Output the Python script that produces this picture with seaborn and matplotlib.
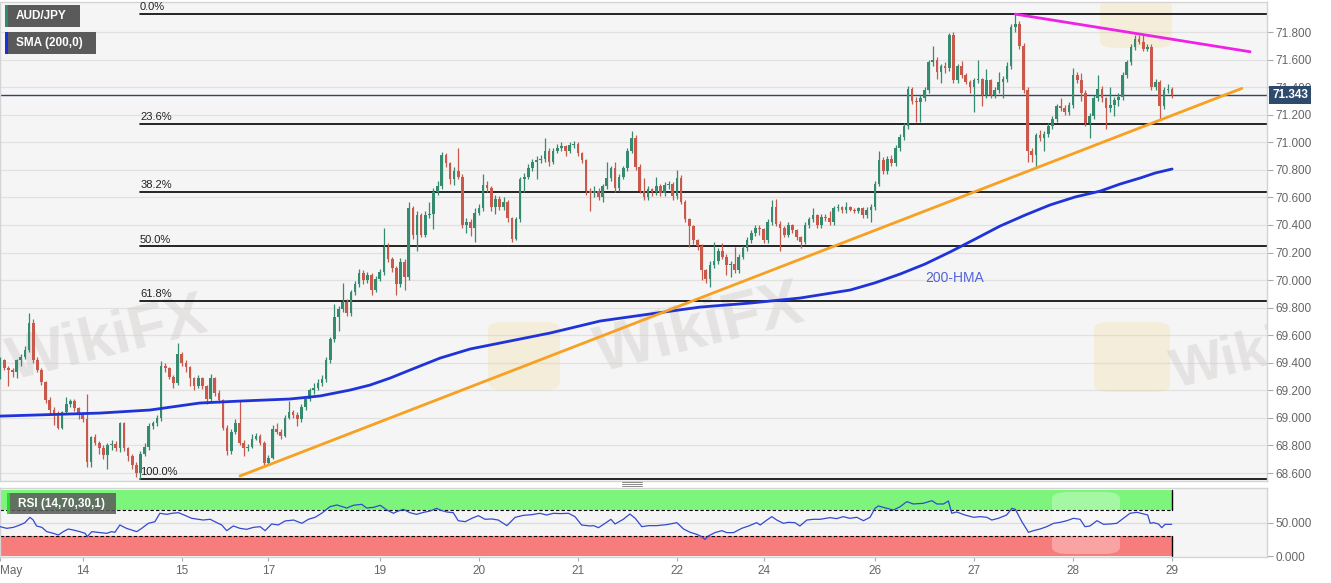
import matplotlib
matplotlib.use("Agg")
import matplotlib.pyplot as plt
import matplotlib.transforms as mtransforms
from matplotlib.patches import Rectangle, FancyBboxPatch
from matplotlib.lines import Line2D
import numpy as np
import pandas as pd
import seaborn as sns

W, H = 1331, 583

# hourly AUD/JPY candles (open of each candle = previous close)
first_open = 69.30
closes = [
    69.42, 69.36, 69.35, 69.33, 69.42, 69.44, 69.49, 69.69, 69.42, 69.35,
    69.26, 69.13, 69.06, 69.03, 68.93, 69.04, 69.10, 69.12, 69.07, 69.03,
    68.99, 68.68, 68.86, 68.82, 68.78, 68.73, 68.80, 68.81, 68.78, 68.96,
    68.78, 68.72, 68.66, 68.60, 68.74, 68.79, 68.94, 68.96, 69.00, 69.38,
    69.36, 69.30, 69.25, 69.46, 69.40, 69.37, 69.29, 69.23, 69.29, 69.23,
    69.14, 69.29, 69.18, 69.13, 68.93, 68.76, 68.90, 68.96, 68.82, 68.78,
    68.79, 68.85, 68.87, 68.82, 68.67, 68.71, 68.92, 68.90, 68.87, 69.00,
    69.04, 69.02, 68.99, 69.08, 69.14, 69.20, 69.22, 69.25, 69.28, 69.42,
    69.57, 69.73, 69.79, 69.84, 69.76, 69.91, 69.97, 70.05, 70.00, 70.04,
    69.93, 70.01, 70.06, 70.24, 70.15, 70.09, 69.97, 70.13, 70.02, 70.52,
    70.33, 70.47, 70.33, 70.47, 70.48, 70.64, 70.68, 70.91, 70.85, 70.73,
    70.79, 70.75, 70.40, 70.42, 70.38, 70.49, 70.52, 70.69, 70.67, 70.53,
    70.59, 70.53, 70.57, 70.45, 70.30, 70.44, 70.73, 70.75, 70.81, 70.86,
    70.87, 70.88, 70.94, 70.86, 70.94, 70.96, 70.97, 70.94, 70.98, 70.99,
    70.92, 70.87, 70.65, 70.63, 70.65, 70.60, 70.68, 70.74, 70.81, 70.67,
    70.75, 70.81, 70.94, 71.03, 70.82, 70.65, 70.60, 70.66, 70.64, 70.68,
    70.63, 70.69, 70.70, 70.61, 70.74, 70.57, 70.44, 70.39, 70.29, 70.25,
    70.07, 70.01, 70.11, 70.14, 70.21, 70.17, 70.11, 70.12, 70.07, 70.17,
    70.23, 70.29, 70.34, 70.38, 70.37, 70.29, 70.42, 70.53, 70.41, 70.38,
    70.33, 70.40, 70.36, 70.31, 70.28, 70.40, 70.44, 70.47, 70.40, 70.46,
    70.45, 70.42, 70.52, 70.53, 70.51, 70.53, 70.51, 70.50, 70.52, 70.47,
    70.51, 70.53, 70.70, 70.87, 70.79, 70.88, 70.85, 70.96, 71.04, 71.12,
    71.39, 71.30, 71.29, 71.32, 71.38, 71.58, 71.60, 71.51, 71.55, 71.54,
    71.78, 71.45, 71.55, 71.49, 71.44, 71.40, 71.45, 71.46, 71.34, 71.45,
    71.34, 71.38, 71.44, 71.46, 71.55, 71.84, 71.86, 71.70, 71.38, 70.94,
    70.91, 71.05, 71.03, 71.06, 71.12, 71.17, 71.26, 71.25, 71.22, 71.27,
    71.49, 71.45, 71.36, 71.14, 71.19, 71.32, 71.39, 71.32, 71.25, 71.27,
    71.31, 71.33, 71.49, 71.58, 71.69, 71.75, 71.73, 71.68, 71.69, 71.40,
    71.44, 71.26, 71.38, 71.39, 71.343,
]
highs = [
    69.44, 69.43, 69.38, 69.36, 69.43, 69.46, 69.52, 69.76, 69.72, 69.44,
    69.36, 69.27, 69.15, 69.08, 69.05, 69.05, 69.15, 69.14, 69.14, 69.08,
    69.04, 69.17, 68.87, 68.88, 68.83, 68.80, 68.82, 68.84, 68.83, 68.97,
    68.97, 68.79, 68.74, 68.68, 68.76, 68.82, 68.96, 68.98, 69.02, 69.41,
    69.40, 69.37, 69.31, 69.54, 69.48, 69.42, 69.38, 69.30, 69.31, 69.30,
    69.24, 69.32, 69.30, 69.20, 69.14, 68.95, 68.92, 68.99, 69.12, 68.84,
    68.81, 68.88, 68.89, 68.88, 68.83, 68.73, 68.95, 68.96, 68.92, 69.02,
    69.12, 69.06, 69.04, 69.10, 69.16, 69.22, 69.25, 69.28, 69.31, 69.44,
    69.59, 69.83, 69.81, 69.98, 69.86, 69.93, 69.99, 70.08, 70.07, 70.06,
    70.05, 70.03, 70.08, 70.38, 70.27, 70.17, 70.10, 70.16, 70.15, 70.57,
    70.54, 70.50, 70.49, 70.50, 70.57, 70.67, 70.72, 70.93, 70.92, 70.86,
    70.82, 70.96, 70.77, 70.45, 70.44, 70.52, 70.55, 70.77, 70.72, 70.68,
    70.62, 70.61, 70.60, 70.58, 70.46, 70.46, 70.75, 70.78, 70.84, 70.88,
    70.90, 70.91, 71.03, 70.96, 70.96, 70.99, 71.00, 70.98, 71.00, 71.01,
    71.00, 70.93, 70.88, 70.67, 70.68, 70.67, 70.70, 70.86, 70.83, 70.86,
    70.77, 70.83, 70.96, 71.08, 71.05, 70.84, 70.74, 70.68, 70.67, 70.75,
    70.70, 70.71, 70.72, 70.71, 70.80, 70.76, 70.58, 70.45, 70.40, 70.30,
    70.26, 70.08, 70.14, 70.28, 70.23, 70.27, 70.19, 70.14, 70.24, 70.19,
    70.25, 70.31, 70.36, 70.40, 70.40, 70.38, 70.44, 70.58, 70.59, 70.43,
    70.39, 70.42, 70.41, 70.37, 70.32, 70.42, 70.46, 70.52, 70.48, 70.48,
    70.48, 70.50, 70.54, 70.55, 70.54, 70.57, 70.54, 70.52, 70.53, 70.53,
    70.53, 70.55, 70.72, 70.94, 70.89, 70.90, 70.91, 70.98, 71.06, 71.14,
    71.41, 71.40, 71.33, 71.34, 71.40, 71.60, 71.70, 71.62, 71.57, 71.58,
    71.79, 71.80, 71.57, 71.59, 71.50, 71.45, 71.47, 71.60, 71.47, 71.53,
    71.46, 71.40, 71.51, 71.48, 71.58, 71.86, 71.93, 71.88, 71.72, 71.40,
    70.96, 71.07, 71.09, 71.08, 71.14, 71.19, 71.28, 71.32, 71.27, 71.29,
    71.54, 71.51, 71.50, 71.38, 71.21, 71.34, 71.49, 71.41, 71.33, 71.40,
    71.33, 71.36, 71.51, 71.60, 71.71, 71.78, 71.78, 71.78, 71.71, 71.71,
    71.46, 71.45, 71.40, 71.42, 71.40,
]
lows = [
    69.28, 69.35, 69.23, 69.30, 69.29, 69.38, 69.43, 69.48, 69.40, 69.33,
    69.24, 69.11, 69.03, 68.95, 68.92, 68.92, 69.03, 69.08, 69.05, 68.99,
    68.97, 68.64, 68.64, 68.80, 68.74, 68.70, 68.63, 68.77, 68.76, 68.75,
    68.76, 68.69, 68.63, 68.57, 68.56, 68.72, 68.77, 68.92, 68.94, 68.98,
    69.33, 69.28, 69.22, 69.24, 69.38, 69.33, 69.23, 69.20, 69.22, 69.21,
    69.10, 69.12, 69.16, 69.11, 68.91, 68.73, 68.74, 68.88, 68.80, 68.72,
    68.76, 68.78, 68.84, 68.80, 68.65, 68.66, 68.70, 68.88, 68.85, 68.86,
    68.99, 69.00, 68.94, 68.97, 69.06, 69.12, 69.17, 69.20, 69.23, 69.26,
    69.40, 69.55, 69.63, 69.77, 69.74, 69.74, 69.89, 69.95, 69.97, 69.98,
    69.89, 69.91, 69.99, 70.04, 70.13, 70.06, 69.89, 69.95, 69.93, 70.00,
    70.30, 70.21, 70.31, 70.31, 70.45, 70.37, 70.62, 70.66, 70.82, 70.70,
    70.69, 70.73, 70.38, 70.34, 70.32, 70.28, 70.47, 70.50, 70.64, 70.50,
    70.48, 70.51, 70.51, 70.42, 70.28, 70.29, 70.42, 70.64, 70.73, 70.79,
    70.73, 70.85, 70.86, 70.83, 70.84, 70.92, 70.94, 70.90, 70.92, 70.96,
    70.90, 70.85, 70.62, 70.50, 70.60, 70.58, 70.57, 70.66, 70.72, 70.64,
    70.65, 70.73, 70.79, 70.92, 70.80, 70.63, 70.58, 70.58, 70.61, 70.62,
    70.61, 70.61, 70.66, 70.58, 70.59, 70.55, 70.42, 70.24, 70.26, 70.22,
    70.00, 69.98, 69.95, 70.09, 70.12, 70.15, 70.04, 70.02, 70.05, 70.05,
    70.15, 70.21, 70.27, 70.32, 70.33, 70.27, 70.27, 70.40, 70.39, 70.21,
    70.31, 70.31, 70.34, 70.29, 70.23, 70.26, 70.38, 70.42, 70.38, 70.38,
    70.43, 70.40, 70.40, 70.50, 70.49, 70.49, 70.50, 70.49, 70.49, 70.45,
    70.45, 70.42, 70.51, 70.68, 70.77, 70.77, 70.83, 70.83, 70.94, 71.02,
    71.10, 71.28, 71.15, 71.15, 71.30, 71.36, 71.55, 71.46, 71.43, 71.50,
    71.52, 71.43, 71.43, 71.47, 71.42, 71.36, 71.22, 71.43, 71.26, 71.32,
    71.32, 71.32, 71.36, 71.32, 71.44, 71.53, 71.80, 71.68, 71.36, 70.86,
    70.86, 70.82, 71.01, 70.94, 71.04, 71.10, 71.15, 71.23, 71.20, 71.20,
    71.25, 71.43, 71.30, 71.12, 71.03, 71.17, 71.30, 71.29, 71.10, 71.22,
    71.19, 71.26, 71.31, 71.47, 71.56, 71.67, 71.71, 71.66, 71.66, 71.38,
    71.38, 71.17, 71.24, 71.36, 71.32,
]

# 200-hour moving average, read at points along the curve
sma_x = [0.96, 25.2, 37.3, 49.4, 59.1, 71.2, 78.5, 79.7, 85.8, 90.6, 95.5,
         100.3, 107.6, 114.9, 122.1, 134.3, 146.4, 158.5, 170.6, 182.7, 194.9,
         207.0, 213.0, 219.1, 225.1, 231.2, 237.3, 243.3, 249.4, 255.4, 261.5,
         267.6, 272.4, 277.3, 280.9, 285.0]
sma_y = [69.013, 69.035, 69.057, 69.108, 69.122, 69.137, 69.159, 69.166,
         69.202, 69.238, 69.289, 69.347, 69.434, 69.500, 69.543, 69.616,
         69.703, 69.754, 69.804, 69.833, 69.870, 69.928, 69.980, 70.044,
         70.116, 70.204, 70.298, 70.392, 70.472, 70.545, 70.603, 70.646,
         70.697, 70.741, 70.777, 70.806]

# RSI(14) trace
rsi_x = [1, 2.6, 4.2, 5.8, 7.0, 8.2, 9.0, 9.8, 11.1, 12.3, 13.9, 15.1, 16.3,
         17.5, 18.7, 20.3, 21.6, 22.1, 23.2, 25.2, 26.8, 28.0, 28.8, 30.0, 31.6,
         34.1, 35.3, 36.9, 38.5, 39.7, 41.4, 42.6, 44.2, 45.4, 47.4, 49.0, 50.2,
         51.9, 53.5, 54.7, 55.9, 57.5, 59.1, 60.7, 62.4, 64.0, 65.2, 66.8, 68.4,
         70.0, 72.1, 74.1, 75.7, 77.3, 78.9, 80.9, 82.6, 85.0, 86.6, 88.6, 89.8,
         91.5, 93.1, 94.7, 96.3, 97.1, 98.7, 100.3, 101.9, 103.6, 105.2, 106.8,
         107.6, 109.2, 110.8, 112.0, 113.7, 115.3, 116.9, 118.5, 120.1, 121.7,
         123.8, 125.8, 127.8, 129.8, 131.8, 133.4, 135.1, 136.7, 138.7, 140.3,
         141.9, 143.9, 144.8, 146.0, 147.6, 149.0, 150.0, 152.0, 153.6, 154.9,
         156.5, 158.1, 160.1, 162.5, 165.0, 166.6, 168.2, 169.8, 171.0, 171.8,
         172.6, 174.2, 175.9, 177.1, 178.7, 180.7, 182.4, 184.3, 185.2, 186.8,
         188.0, 189.2, 190.8, 192.0, 193.6, 194.8, 196.5, 198.1, 199.7, 202.1,
         203.7, 205.3, 206.9, 208.6, 210.2, 211.8, 213.0, 213.8, 215.9, 217.5,
         219.1, 220.7, 222.3, 224.7, 226.8, 228.0, 229.6, 230.8, 231.6, 232.8,
         234.8, 236.9, 238.5, 240.1, 241.3, 242.9, 244.9, 246.2, 247.0, 248.6,
         250.2, 251.4, 253.0, 254.6, 256.3, 257.9, 259.5, 261.1, 262.7, 263.9,
         265.1, 266.8, 268.4, 270.0, 271.6, 273.2, 274.8, 276.5, 278.1, 279.1,
         279.7, 280.5, 281.7, 282.5, 283.3, 284.9]
rsi_y = [44.4, 41.9, 43.4, 47.0, 50.5, 58.6, 54.5, 45.5, 43.4, 36.9, 34.3, 31.8,
         36.9, 40.9, 39.4, 36.9, 34.3, 29.3, 36.9, 35.4, 34.3, 36.9, 35.9, 47.0,
         41.9, 36.9, 41.9, 49.5, 52.0, 64.7, 63.1, 64.7, 65.6, 62.6, 57.1, 55.6,
         54.5, 55.6, 50.5, 47.0, 38.4, 45.5, 41.9, 40.4, 43.4, 44.4, 38.4, 48.5,
         47.0, 53.0, 54.5, 49.5, 55.6, 58.6, 64.7, 74.7, 77.3, 72.7, 76.8, 78.3,
         72.7, 73.7, 76.8, 69.7, 64.7, 67.2, 70.7, 65.6, 63.1, 66.1, 68.2, 72.2,
         69.7, 66.7, 65.6, 53.5, 52.0, 57.1, 61.1, 55.6, 56.1, 54.5, 46.0, 58.6,
         61.6, 62.6, 64.7, 62.1, 64.7, 64.2, 64.7, 59.6, 47.0, 45.5, 46.0, 42.9,
         49.5, 55.6, 48.5, 55.6, 63.6, 57.1, 44.4, 46.0, 46.0, 47.5, 50.5, 40.9,
         35.9, 32.8, 29.3, 25.2, 30.3, 35.4, 38.4, 35.4, 35.4, 41.9, 45.5, 50.5,
         47.0, 54.5, 59.6, 54.5, 49.5, 51.0, 50.5, 45.5, 54.5, 55.6, 55.6, 58.1,
         56.6, 59.6, 57.1, 58.6, 53.5, 58.6, 72.2, 75.8, 72.2, 69.7, 74.7, 82.3,
         78.8, 79.8, 83.8, 78.8, 78.8, 83.3, 64.7, 66.7, 62.1, 58.6, 59.6, 58.6,
         54.5, 57.1, 62.1, 72.2, 70.7, 52.0, 35.9, 38.4, 40.9, 44.4, 49.5, 51.0,
         53.5, 57.1, 55.6, 44.4, 45.5, 53.5, 48.0, 48.5, 49.5, 57.1, 64.7, 66.2,
         63.6, 62.1, 49.5, 50.5, 48.5, 42.9, 48.0, 48.0]

date_pos = [1, 21, 45, 66, 93, 117, 141, 165, 186, 213, 237, 261, 285]
date_labels = ["May", "14", "15", "17", "19", "20", "21", "22", "24", "26",
               "27", "28", "29"]

fib_high, fib_low = 71.93, 68.56
fib_ratios = [0.0, 0.236, 0.382, 0.5, 0.618, 1.0]
fib_labels = ["0.0%", "23.6%", "38.2%", "50.0%", "61.8%", "100.0%"]
fib_start = 34.9

support_x, support_y = [59.1, 301.9], [68.578, 71.391]
resist_x, resist_y = [247.0, 303.9], [71.93, 71.657]
last_price = 71.343
price_ticks = [68.6, 68.8, 69.0, 69.2, 69.4, 69.6, 69.8, 70.0, 70.2, 70.4,
               70.6, 70.8, 71.0, 71.2, 71.4, 71.6, 71.8]

GREEN, RED = "#358b6f", "#c9594b"
PANEL_BG = "#f5f5f5"
FONT = ["Liberation Sans", "DejaVu Sans"]

sns.set_theme(style="white")
plt.rcParams["font.family"] = FONT

fig = plt.figure(figsize=(W / 100, H / 100), dpi=100)
fig.patch.set_facecolor("white")


def fx(x):
    return x / W


def fy(y):
    return 1 - y / H


ax = fig.add_axes([0, fy(481), fx(1267), fy(2) - fy(481)])
ax2 = fig.add_axes([0, fy(557), fx(1267), fy(488) - fy(557)])
xlim = (0.957, 308.0)

for a in (ax, ax2):
    a.set_facecolor(PANEL_BG)
    for s in a.spines.values():
        s.set_color("#d4d4d4")
        s.set_linewidth(1)
    a.set_xlim(*xlim)

# ---- price panel
ax.set_ylim(68.542, 72.018)
for t in price_ticks:
    ax.axhline(t, color="#e1e1e1", lw=0.9, zorder=0)

# watermark logos and text, kept faint inside each panel
for (a, lx, ly, lw_, lh, col, al, z) in [
        (ax, 488, 322, 72, 68, "#f2d27c", 0.22, 0.6),
        (ax, 1094, 322, 76, 70, "#f2d27c", 0.22, 0.6),
        (ax, 1100, 0, 72, 48, "#f2d27c", 0.22, 0.6),
        (ax2, 1052, 492, 68, 62, "#ffffff", 0.3, 1.5)]:
    a.add_patch(FancyBboxPatch((fx(lx), fy(ly + lh)), fx(lw_), fy(ly) - fy(ly + lh),
                               boxstyle="round,pad=0,rounding_size=0.012",
                               transform=fig.transFigure, fc=col, ec="none",
                               alpha=al, zorder=z))
for (wx, wy, fs) in [(108, 340, 44), (700, 330, 46), (1262, 352, 40)]:
    ax.text(fx(wx), fy(wy), "WikiFX", transform=fig.transFigure, fontsize=fs,
            fontweight="bold", color="#d2cccc", alpha=0.45, rotation=14,
            ha="center", va="center", zorder=0.5, clip_on=True)

df = pd.DataFrame({"i": np.arange(1, len(closes) + 1), "close": closes,
                   "high": highs, "low": lows})
df["open"] = [first_open] + closes[:-1]
up = df["close"] >= df["open"]
colors = np.where(up, GREEN, RED)
body_lo = df[["open", "close"]].min(axis=1)
body_h = (df["close"] - df["open"]).abs().clip(lower=0.006)
ax.vlines(df["i"], df["low"], df["high"], colors=colors, lw=0.9, zorder=3)
ax.bar(df["i"], body_h, bottom=body_lo, width=0.64, color=colors, lw=0, zorder=4)

# fibonacci retracements
for r, lab in zip(fib_ratios, fib_labels):
    lvl = fib_high - r * (fib_high - fib_low)
    ax.plot([fib_start, xlim[1]], [lvl, lvl], color="black", lw=1.2, zorder=2)
    ax.text(fib_start, lvl + 0.012, lab, fontsize=8, color="#222222",
            ha="left", va="bottom", zorder=6)

sns.lineplot(x=sma_x, y=sma_y, ax=ax, color="#1f33d8", lw=2, sort=False,
             estimator=None, zorder=5)
ax.plot(support_x, support_y, color="#f7a021", lw=2, zorder=5)
ax.plot(resist_x, resist_y, color="#ee22e6", lw=2, zorder=5)
ax.axhline(last_price, color="#2c4766", lw=1, zorder=2.5)
ax.text(225.1, 70.015, "200-HMA", fontsize=10, color="#5363d9", ha="left",
        va="center", zorder=6)

ax.set_xticks([])
ax.yaxis.tick_right()
ax.set_yticks(price_ticks, [f"{t:.3f}" for t in price_ticks])
ax.tick_params(axis="y", direction="out", length=4, width=0.8, color="#aaaaaa",
               labelcolor="#666666", labelsize=8.5, pad=2)
ax.set_xlabel("")
ax.set_ylabel("")

trans = mtransforms.blended_transform_factory(ax.transAxes, ax.transData)
ax.text(1.004, last_price, f"{last_price:.3f}", transform=trans, fontsize=8.5,
        fontweight="bold", color="white", ha="left", va="center", zorder=7,
        bbox=dict(boxstyle="square,pad=0.22", fc="#2e4a6c", ec="none"),
        clip_on=False)

# ---- RSI panel
last_i = df["i"].iloc[-1]
ax2.set_ylim(-1.5, 103)
ax2.axhline(50, color="#dcdcdc", lw=0.9, zorder=0)
ax2.fill_between([xlim[0], last_i], 70, 100, color="#7df57d", lw=0, zorder=1)
ax2.fill_between([xlim[0], last_i], 0, 30, color="#f77c7c", lw=0, zorder=1)
ax2.plot([xlim[0], last_i], [70, 70], color="black", lw=0.8, ls=(0, (3, 2)), zorder=2)
ax2.plot([xlim[0], last_i], [30, 30], color="black", lw=0.8, ls=(0, (3, 2)), zorder=2)
ax2.plot([last_i, last_i], [70, 100], color="black", lw=1, zorder=2)
ax2.plot([last_i, last_i], [0, 30], color="black", lw=1, zorder=2)
sns.lineplot(x=rsi_x, y=rsi_y, ax=ax2, color="#3449d0", lw=0.9, sort=False,
             estimator=None, zorder=3)
ax2.yaxis.tick_right()
ax2.set_yticks([0, 50], ["0.000", "50.000"])
ax2.tick_params(axis="y", direction="out", length=4, width=0.8, color="#aaaaaa",
                labelcolor="#666666", labelsize=8.5, pad=2)
ax2.set_xticks(date_pos, date_labels)
ax2.tick_params(axis="x", direction="out", length=3, width=0.8, color="#aaaaaa",
                labelcolor="#666666", labelsize=8.5, pad=3, bottom=True)
ax2.get_xticklabels()[0].set_ha("left")
ax2.set_xlabel("")
ax2.set_ylabel("")

# ---- legend tags
def tag(x0, y0, x1, y1, text, strip, fs=8.5, alpha=1.0):
    fig.add_artist(Rectangle((fx(x0), fy(y1)), fx(x1 - x0), fy(y0) - fy(y1),
                             transform=fig.transFigure, fc="#5a5a5a", ec="none",
                             alpha=alpha, zorder=10))
    fig.add_artist(Rectangle((fx(x0), fy(y1)), fx(2.5), fy(y0) - fy(y1),
                             transform=fig.transFigure, fc=strip, ec="none",
                             zorder=11))
    fig.text(fx(x0 + 11), fy((y0 + y1) / 2), text, fontsize=fs, color="white",
             fontweight="bold", ha="left", va="center", zorder=12)


tag(5, 5, 80, 27, "AUD/JPY", "#2e8b6e")
tag(5, 32, 96, 54, "SMA (200,0)", "#1a2fe0")
tag(7, 493, 116, 514, "RSI (14,70,30,1)", "#22dd22", fs=8.5, alpha=0.85)

# panel separator grip
for gy in (482, 484, 486):
    fig.add_artist(Line2D([fx(622), fx(642)], [fy(gy), fy(gy)],
                          transform=fig.transFigure, color="#888888", lw=0.7))

fig.savefig("out.png", dpi=100, facecolor="white")
